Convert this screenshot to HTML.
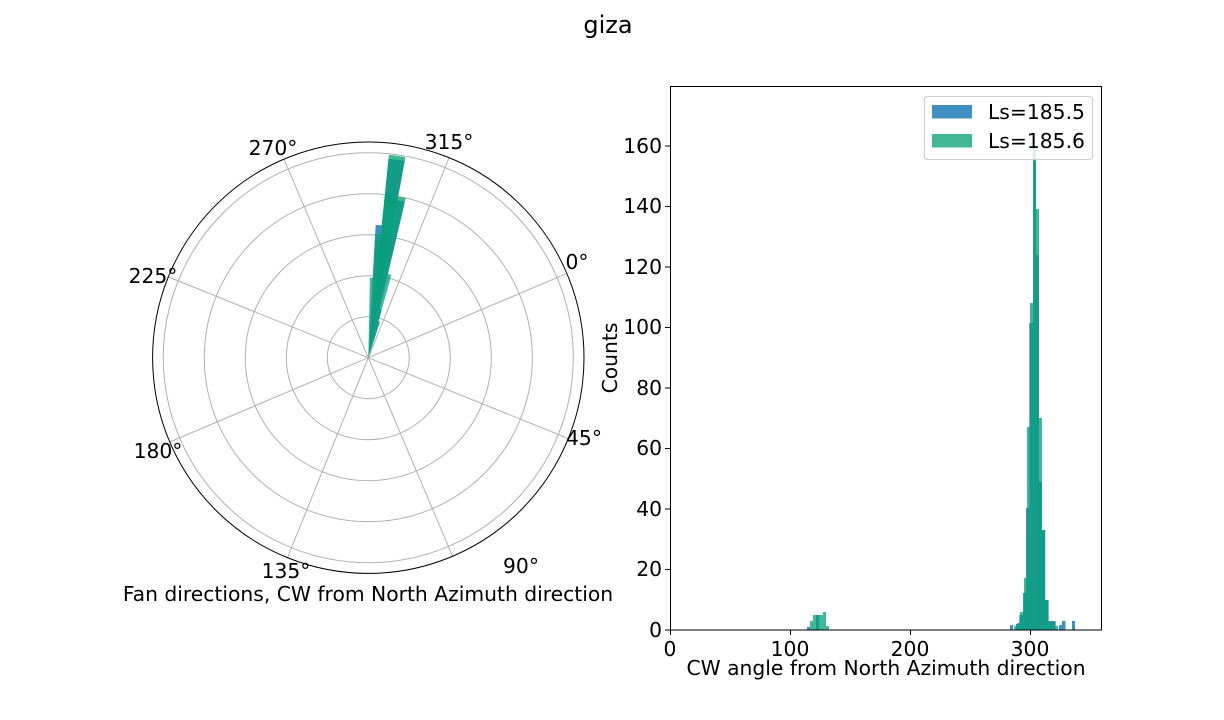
<!DOCTYPE html>
<html><head><meta charset="utf-8"><style>
html,body{margin:0;padding:0;background:#fff;}
svg{display:block;font-family:"DejaVu Sans","Liberation Sans",sans-serif;}
</style></head><body>
<svg id="s" width="1224" height="720" viewBox="0 0 1224 720" xmlns="http://www.w3.org/2000/svg">
<rect width="1224" height="720" fill="#fff"/>
<text x="608" y="33" font-size="24" text-anchor="middle">giza</text>
<g id="polar"></g>
<text x="368" y="601" font-size="20.3" text-anchor="middle">Fan directions, CW from North Azimuth direction</text>

<g id="hist">
<g fill="#3f8fc0">
<rect x="1010" y="625" width="3" height="5"/>
<rect x="1016" y="624" width="3.3" height="6"/>
<rect x="1019.3" y="615" width="3.7" height="15"/>
<rect x="1023" y="593" width="3" height="37"/>
<rect x="1026" y="508" width="3.3" height="122"/>
<rect x="1029.3" y="323" width="4" height="307"/>
<rect x="1033.3" y="161" width="2.7" height="469"/>
<rect x="1036" y="255" width="3" height="375"/>
<rect x="1039" y="482" width="3" height="148"/>
<rect x="1042" y="530" width="3.3" height="100"/>
<rect x="1045.3" y="600" width="3.4" height="30"/>
<rect x="1048.7" y="621" width="7" height="9"/>
<rect x="1059" y="625" width="3" height="5"/>
<rect x="1062" y="621" width="3.5" height="9"/>
<rect x="1072" y="621" width="3" height="9"/>
<rect x="807" y="627" width="3" height="3"/>
<rect x="816" y="615" width="3" height="15"/>
</g>
<g fill="rgb(5,160,118)" fill-opacity="0.76">
<rect x="1014" y="626" width="3" height="4"/>
<rect x="1017" y="623" width="3" height="7"/>
<rect x="1020" y="612" width="4" height="18"/>
<rect x="1024" y="578" width="3" height="52"/>
<rect x="1027" y="427" width="3" height="203"/>
<rect x="1030" y="303" width="3" height="327"/>
<rect x="1033" y="146" width="3" height="484"/>
<rect x="1036" y="209" width="3" height="421"/>
<rect x="1039" y="418" width="3" height="212"/>
<rect x="1042" y="530" width="3" height="100"/>
<rect x="1045" y="600" width="3" height="30"/>
<rect x="1048" y="622" width="7" height="8"/>
<rect x="1055" y="626" width="3" height="4"/>
<rect x="810" y="621" width="3" height="9"/>
<rect x="813" y="615" width="3" height="15"/>
<rect x="816" y="615" width="3" height="15"/>
<rect x="819" y="615" width="4" height="15"/>
<rect x="823" y="612" width="3" height="18"/>
<rect x="826" y="626" width="3" height="4"/>
</g>
<rect x="670.5" y="86.5" width="431" height="543.5" fill="none" stroke="#000" stroke-width="1"/>
<g stroke="#000" stroke-width="1">
<line x1="670.5" y1="630" x2="670.5" y2="635"/><line x1="790.5" y1="630" x2="790.5" y2="635"/>
<line x1="910.5" y1="630" x2="910.5" y2="635"/><line x1="1030.5" y1="630" x2="1030.5" y2="635"/>
<line x1="665" y1="630" x2="670" y2="630"/><line x1="665" y1="569.5" x2="670" y2="569.5"/>
<line x1="665" y1="509" x2="670" y2="509"/><line x1="665" y1="448.5" x2="670" y2="448.5"/>
<line x1="665" y1="388" x2="670" y2="388"/><line x1="665" y1="327.5" x2="670" y2="327.5"/>
<line x1="665" y1="267" x2="670" y2="267"/><line x1="665" y1="206.5" x2="670" y2="206.5"/>
<line x1="665" y1="146" x2="670" y2="146"/>
</g>
<g font-size="20.3" text-anchor="middle">
<text x="670" y="656">0</text><text x="790" y="656">100</text><text x="910" y="656">200</text><text x="1030" y="656">300</text>
</g>
<g font-size="20.3" text-anchor="end">
<text x="662" y="637">0</text><text x="662" y="576">20</text><text x="662" y="516">40</text>
<text x="662" y="455">60</text><text x="662" y="395">80</text><text x="662" y="334">100</text>
<text x="662" y="274">120</text><text x="662" y="213">140</text><text x="662" y="153">160</text>
</g>
<text x="886" y="675" font-size="20.3" text-anchor="middle">CW angle from North Azimuth direction</text>
<text transform="translate(617,358) rotate(-90)" font-size="20.3" text-anchor="middle">Counts</text>
<rect x="924.5" y="96.5" width="168" height="63" rx="3" fill="#fff" fill-opacity="0.8" stroke="#ccc"/>
<rect x="932" y="105" width="40" height="13.5" fill="#3f8fc0"/>
<rect x="932" y="134" width="40" height="13.5" fill="#41b797"/>
<text x="988" y="119" font-size="20.3">Ls=185.5</text>
<text x="988" y="148" font-size="20.3">Ls=185.6</text>
</g>
</svg>
<script>
(function(){
var cx=368.3,cy=357.7,ns="http://www.w3.org/2000/svg",g=document.getElementById('polar');
function P(a,r){var t=a*Math.PI/180;return [(cx+r*Math.cos(t)).toFixed(2),(cy-r*Math.sin(t)).toFixed(2)];}
function el(n,at){var e=document.createElementNS(ns,n);for(var k in at)e.setAttribute(k,at[k]);g.appendChild(e);return e;}
[41,82,123,164,205].forEach(function(r){el('circle',{cx:cx,cy:cy,r:r,fill:'none',stroke:'#b0b0b0','stroke-width':1});});
for(var k=0;k<8;k++){var a=23-45*k;var p=P(a,215.7);el('line',{x1:cx,y1:cy,x2:p[0],y2:p[1],stroke:'#b0b0b0','stroke-width':1});}
el('circle',{cx:cx,cy:cy,r:215.7,fill:'none',stroke:'#000','stroke-width':1});
function wedge(a0,a1,r,fill,op){var p0=P(a0,r),p1=P(a1,r);
el('path',{d:'M'+cx+' '+cy+'L'+p0[0]+' '+p0[1]+'A'+r+' '+r+' 0 0 0 '+p1[0]+' '+p1[1]+'Z',fill:fill,'fill-opacity':op});}
var B='#3f8fc0',G='rgb(5,160,118)';
[[84.2,86.8,133],[76.8,79.5,160],[79.5,84.2,200],[74.4,76.8,50],[72,74.4,38]].forEach(function(w){wedge(w[0],w[1],w[2],B,1);});
[[79.5,84.2,204],[76.8,84,164],[84,86.8,124],[74.4,76.8,86],[86.8,88.8,80],[72,74.4,36]].forEach(function(w){wedge(w[0],w[1],w[2],G,0.76);});
})();
</script>
<script>
(function(){var s=document.getElementById('s'),ns="http://www.w3.org/2000/svg";
var L=[["0°",577,269],["45°",584,445],["90°",521,573],["135°",286,578],["180°",158,458],["225°",153,283],["270°",273,155],["315°",449,149]];
L.forEach(function(l){var t=document.createElementNS(ns,'text');t.setAttribute('x',l[1]);t.setAttribute('y',l[2]);t.setAttribute('font-size','20.3');t.setAttribute('text-anchor','middle');t.textContent=l[0];s.appendChild(t);});})();
</script>
</body></html>
